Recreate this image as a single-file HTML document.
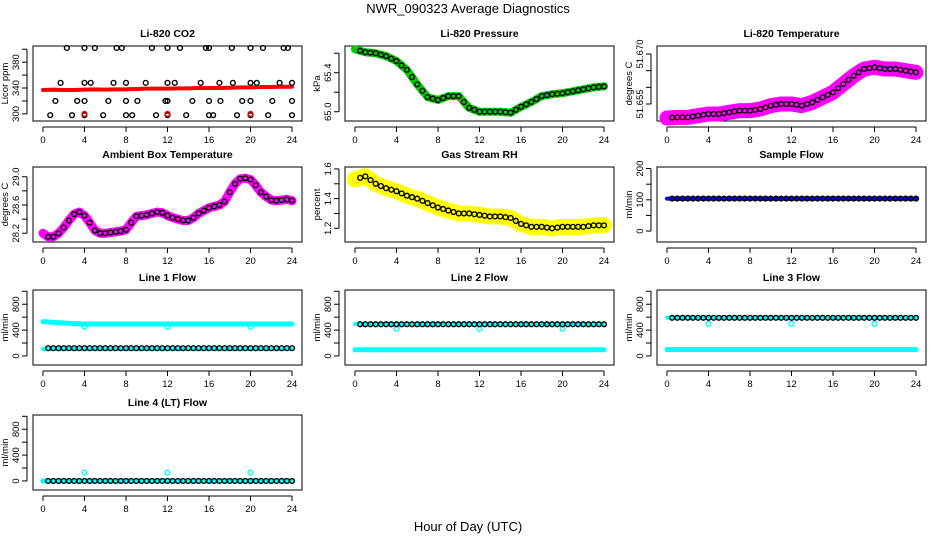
<!DOCTYPE html>
<html><head><meta charset="utf-8"><style>
body{margin:0;background:#fff}
svg{display:block;font-family:"Liberation Sans",Arial,sans-serif}
</style></head><body>
<svg id="c" width="936" height="540" viewBox="0 0 936 540">
<text x="468" y="13" font-size="13" text-anchor="middle">NWR_090323  Average Diagnostics</text>
<text x="468" y="531" font-size="13" text-anchor="middle">Hour of Day (UTC)</text>
</svg>
<script>
const hours=[0,1,2,3,4,5,6,7,8,9,10,11,12,13,14,15,16,17,18,19,20,21,22,23,24];
const halfHours=[0,0.5,1,1.5,2,2.5,3,3.5,4,4.5,5,5.5,6,6.5,7,7.5,8,8.5,9,9.5,10,10.5,11,11.5,12,12.5,13,13.5,14,14.5,15,15.5,16,16.5,17,17.5,18,18.5,19,19.5,20,20.5,21,21.5,22,22.5,23,23.5,24];
const co2Red=[337,337.5,337,337,337.5,338,337.5,338,338,338.5,339,339,339,339.5,339.5,340,340,340,340.5,341,341,341.5,341.5,342,342];
const co2Hi=[2.3,4,5,7.1,7.6,10.5,12,13.2,15.7,16,18.2,20,21.2,23.2,23.6];
const co2Mid=[1.7,4,4.6,6.8,8,9.9,12,12.7,15.2,17,18.3,20,20.6,22.8,24];
const co2Lo=[1.2,3.3,4,6.3,8,9.1,11.8,12,14.4,16,17.1,19.2,20,22.1,24];
const co2Bot=[0.7,2.8,4,5.8,8,8.6,10.9,12,13.8,16,16.4,18.7,20,21.7,24];
const co2RedOut=[4,12,20];
const pressure=[65.64,65.61,65.6,65.57,65.52,65.43,65.28,65.15,65.12,65.16,65.16,65.04,65.0,65.0,65.0,64.99,65.05,65.1,65.16,65.18,65.19,65.21,65.23,65.25,65.26];
const liTemp=[51.6508,51.651,51.651,51.6515,51.652,51.652,51.6525,51.653,51.653,51.6535,51.6545,51.655,51.655,51.6545,51.6555,51.657,51.6585,51.661,51.6635,51.6655,51.666,51.6655,51.6655,51.665,51.6645];
const ambient=[28.2,28.15,28.15,28.2,28.28,28.38,28.47,28.5,28.45,28.35,28.24,28.2,28.2,28.21,28.22,28.23,28.25,28.35,28.44,28.45,28.46,28.48,28.5,28.49,28.45,28.42,28.4,28.38,28.38,28.42,28.48,28.52,28.56,28.58,28.6,28.65,28.78,28.9,28.97,28.98,28.96,28.88,28.78,28.72,28.67,28.66,28.67,28.68,28.66];
const rh=[1.53,1.55,1.5,1.47,1.45,1.42,1.4,1.37,1.34,1.32,1.3,1.3,1.29,1.28,1.28,1.27,1.23,1.21,1.21,1.2,1.21,1.21,1.21,1.22,1.22];
const sampleFlow=[104,104,104,104,104,104,104,104,104,104,104,104,104,104,104,104,104,104,104,104,104,104,104,104,104];
const line1Cyan=[530,520,510,500,495,495,495,495,495,495,495,495,495,495,495,495,495,495,495,495,495,495,495,495,495];
const line1Black=120;
const line2Cyan=95, line2Black=490, line3Cyan=100, line3Black=590, line4Cyan=0, line4Black=0;
const dipHours=[4,12,20];
const line1Dip=450, line2Dip=420, line3Dip=500, line4Dip=130;

const svg=document.getElementById('c');
const NS='http://www.w3.org/2000/svg';
function mk(t,a,p){const e=document.createElementNS(NS,t);for(const k in a)e.setAttribute(k,a[k]);(p||svg).appendChild(e);return e;}
const colX=[33,345,657], rowY=[46,167,290,415], W=269, H=75;

function panel(col,row,title,ylab,ymin,ymax,ticks,labels,name){
  const g=mk('g',{});
  
  
  const L=colX[col],T=rowY[row];
  const xs=h=>L+(h+0.96)/25.92*W;
  const ys=v=>T+H-(v-ymin)/(ymax-ymin)*H;
  const t=mk('text',{x:L+W/2,y:T-9,'font-size':10.5,'font-weight':'bold','text-anchor':'middle'},g);t.textContent=title;
  
  
  const b=mk('rect',{x:L,y:T,width:W,height:H,fill:'none',stroke:'#000','stroke-width':1},g);
  
  
  const xa=mk('g',{},g);
  
  
  mk('line',{x1:xs(0),x2:xs(24),y1:T+H+6,y2:T+H+6,stroke:'#000'},xa);
  for(let h=0;h<=24;h+=4){mk('line',{x1:xs(h),x2:xs(h),y1:T+H+6,y2:T+H+11,stroke:'#000'},xa);
    const l=mk('text',{x:xs(h),y:T+H+22,'font-size':9.5,'text-anchor':'middle'},xa);l.textContent=h;}
  const ya=mk('g',{},g);
  
  
  mk('line',{x1:L-6,x2:L-6,y1:ys(ticks[0]),y2:ys(ticks[ticks.length-1]),stroke:'#000'},ya);
  ticks.forEach(v=>mk('line',{x1:L-11,x2:L-6,y1:ys(v),y2:ys(v),stroke:'#000'},ya));
  labels.forEach(v=>{const y=ys(v);const l=mk('text',{x:L-14,y:y,'font-size':9.5,'text-anchor':'middle',transform:`rotate(-90 ${L-14} ${y})`},ya);l.textContent=v;});
  const yt=mk('text',{x:L-25,y:T+H/2,'font-size':9.5,'text-anchor':'middle',transform:`rotate(-90 ${L-25} ${T+H/2})`},g);yt.textContent=ylab;
  
  
  return {g,xs,ys};
}
function band(p,xv,yv,color,w,name){
  const d=xv.map((x,i)=>(i?'L':'M')+p.xs(x)+' '+p.ys(yv[i])).join('');
  const e=mk('path',{d:d,fill:'none',stroke:color,'stroke-width':w,'stroke-linecap':'round','stroke-linejoin':'round'},p.g);
  
  
}
function pts(p,xv,yv,color,name,r){
  const g=mk('g',{},p.g);
  
  
  xv.forEach((x,i)=>{const v=Array.isArray(yv)?yv[i]:yv;mk('circle',{cx:p.xs(x),cy:p.ys(v),r:r||2.4,fill:'none',stroke:color,'stroke-width':1.4},g);});
}
function interp(xv,yv,x){for(let i=1;i<xv.length;i++){if(x<=xv[i]){const f=(x-xv[i-1])/(xv[i]-xv[i-1]);return yv[i-1]+f*(yv[i]-yv[i-1]);}}return yv[yv.length-1];}
const blackHours=halfHours.slice(1);

// CO2
let p=panel(0,0,'Li-820 CO2','Licor ppm',289,405,[300,320,340,360,380,400],[300,340,380],'co2');
band(p,hours,co2Red,'#f00',4,'co2-red-series');
pts(p,co2Hi,402,'#000','co2-points-402');
pts(p,co2Mid,348,'#000','co2-points-348');
pts(p,co2Lo,320,'#000','co2-points-320');
pts(p,co2Bot,298,'#000','co2-points-298');
pts(p,co2RedOut,300,'#f00','co2-red-outliers');
// Pressure
p=panel(1,0,'Li-820 Pressure','kPa',64.905,65.674,[65.0,65.2,65.4,65.6],['65.0','65.4'],'pressure');
band(p,hours,pressure,'#0c0',8,'pressure-green-series');
pts(p,blackHours,blackHours.map(h=>interp(hours,pressure,h)),'#000','pressure-black-points');
// Li temp
p=panel(2,0,'Li-820 Temperature','degrees C',51.6499,51.6724,[51.655,51.66,51.665,51.67],['51.655','51.670'],'li-temperature');
band(p,hours,liTemp,'#f0f',15,'li-temperature-magenta-series');
pts(p,blackHours,blackHours.map(h=>interp(hours,liTemp,h)),'#000','li-temperature-black-points');
// Ambient
p=panel(0,1,'Ambient Box Temperature','degrees C',28.076,29.138,[28.2,28.4,28.6,28.8,29.0],['28.2','28.6','29.0'],'ambient-temperature');
band(p,halfHours,ambient,'#f0f',9,'ambient-magenta-series');
pts(p,blackHours,blackHours.map(h=>interp(halfHours,ambient,h)),'#000','ambient-black-points');
// RH
p=panel(1,1,'Gas Stream RH','percent',1.108,1.613,[1.2,1.3,1.4,1.5,1.6],['1.2','1.4','1.6'],'gas-rh');
band(p,hours,rh,'#ff0',16,'rh-yellow-series');
pts(p,blackHours,blackHours.map(h=>interp(hours,rh,h)),'#000','rh-black-points');
// Sample flow
p=panel(2,1,'Sample Flow','ml/min',-35,205,[0,50,100,150,200],[0,100,200],'sample-flow');
band(p,hours,sampleFlow,'#00f',4,'sample-flow-blue-series');
pts(p,blackHours,blackHours.map(h=>interp(hours,sampleFlow,h)),'#000','sample-flow-black-points');
const fT=[0,200,400,600,800,1000],fL=[0,400,800];
// Line 1
p=panel(0,2,'Line 1 Flow','ml/min',-140,1020,fT,fL,'line1-flow');
band(p,hours,line1Cyan,'#0ff',5,'line1-cyan-series');
pts(p,dipHours,line1Dip,'#0ff','line1-cyan-dips');
band(p,[0,24],[line1Black-15,line1Black-15],'#0ff',4,'line1-cyan-low');
pts(p,blackHours,line1Black,'#000','line1-black-points');
// Line 2
p=panel(1,2,'Line 2 Flow','ml/min',-140,1020,fT,fL,'line2-flow');
band(p,[0,24],[line2Cyan,line2Cyan],'#0ff',5,'line2-cyan-series');
band(p,[0,24],[line2Black+5,line2Black+5],'#0ff',4,'line2-cyan-high');
pts(p,dipHours,line2Dip,'#0ff','line2-cyan-dips');
pts(p,blackHours,line2Black,'#000','line2-black-points');
// Line 3
p=panel(2,2,'Line 3 Flow','ml/min',-140,1020,fT,fL,'line3-flow');
band(p,[0,24],[line3Cyan,line3Cyan],'#0ff',5,'line3-cyan-series');
band(p,[0,24],[line3Black,line3Black],'#0ff',4,'line3-cyan-high');
pts(p,dipHours,line3Dip,'#0ff','line3-cyan-dips');
pts(p,blackHours,line3Black,'#000','line3-black-points');
// Line 4
p=panel(0,3,'Line 4 (LT) Flow','ml/min',-140,1020,fT,fL,'line4-flow');
band(p,[0,24],[line4Cyan,line4Cyan],'#0ff',5,'line4-cyan-series');
pts(p,dipHours,line4Dip,'#0ff','line4-cyan-dips');
pts(p,blackHours,line4Black,'#000','line4-black-points');
</script>
</body></html>
